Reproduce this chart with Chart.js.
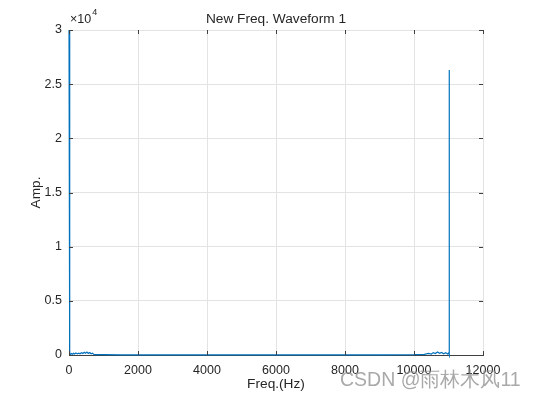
<!DOCTYPE html>
<html>
<head>
    <meta charset="UTF-8">
    <title>New Freq. Waveform 1</title>
    <script src="https://cdn.jsdelivr.net/npm/chart.js"></script>
    <style>
        html, body { margin: 0; padding: 0; background: #fff; }
        #box { width: 534px; height: 400px; }
    </style>
</head>
<body>
    <div id="box"><canvas id="freq-chart"></canvas></div>
    <script>
        // 频谱数据 (Hz, 幅值)
        const freqs = [0, 20, 40, 70, 100, 130, 160, 200, 240, 280, 320, 360, 400, 440, 480, 520, 560, 600, 640, 680, 720, 800,
                       1000, 1500, 2000, 3000, 4000, 5000, 6000, 7000, 8000, 9000, 10000,
                       10300, 10420, 10500, 10560, 10620, 10680, 10740, 10800, 10860, 10920, 10970, 11000, 11015, 11020, 11025];
        const amps = [31000, 150, 60, 140, 70, 160, 90, 180, 100, 170, 120, 210, 140, 250, 160, 280, 150, 230, 110, 170, 60, 40,
                      30, 20, 20, 15, 15, 15, 15, 15, 20, 20, 30,
                      60, 140, 90, 220, 130, 280, 160, 240, 120, 220, 100, 180, 90, 26300, 0];
        const xTicks = [0, 2000, 4000, 6000, 8000, 10000, 12000];
        const yTicks = [0, 5000, 10000, 15000, 20000, 25000, 30000];

        const points = freqs.map((f, i) => ({ x: f, y: amps[i] }));
        const FONT = 'Liberation Sans, Arial, Helvetica, sans-serif';

        // 额外文字和刻度线
        const decor = {
            id: 'decor',
            afterDraw(chart) {
                const c = chart.ctx;
                const a = chart.chartArea;
                const sx = chart.scales.x, sy = chart.scales.y;
                c.save();
                c.strokeStyle = '#404040';
                c.lineWidth = 1;
                c.beginPath();
                xTicks.forEach(v => {
                    const px = Math.round(sx.getPixelForValue(v)) + 0.5;
                    c.moveTo(px, a.bottom); c.lineTo(px, a.bottom - 4);
                    c.moveTo(px, a.top); c.lineTo(px, a.top + 4);
                });
                yTicks.forEach(v => {
                    const py = Math.round(sy.getPixelForValue(v)) + 0.5;
                    c.moveTo(a.left, py); c.lineTo(a.left + 4, py);
                    c.moveTo(a.right, py); c.lineTo(a.right - 4, py);
                });
                c.stroke();

                c.fillStyle = '#262626';
                c.textAlign = 'center';
                c.textBaseline = 'middle';
                c.font = '13.7px ' + FONT;
                c.fillText('New Freq. Waveform 1', (a.left + a.right) / 2, 19);
                c.fillText('Freq.(Hz)', (a.left + a.right) / 2, 384);
                c.save();
                c.translate(36, (a.top + a.bottom) / 2);
                c.rotate(-Math.PI / 2);
                c.fillText('Amp.', 0, 0);
                c.restore();

                c.textAlign = 'left';
                c.font = '12.5px ' + FONT;
                const base = '\u00d710';
                c.fillText(base, 70, 20);
                const w = c.measureText(base).width;
                c.font = '9px ' + FONT;
                c.fillText('4', 70 + w + 1, 13);

                c.font = '19.5px ' + FONT;
                c.fillStyle = 'rgba(140,140,140,0.75)';
                c.fillText('CSDN @雨林木风11', 340, 381);
                c.restore();
            }
        };

        new Chart(document.getElementById('freq-chart'), {
            type: 'line',
            data: {
                datasets: [{
                    data: points,
                    borderColor: '#0072BD',
                    borderWidth: 1.2,
                    pointRadius: 0,
                    tension: 0,
                    fill: false,
                    clip: { left: 3, right: 3, top: 0, bottom: 3 }
                }]
            },
            options: {
                responsive: true,
                maintainAspectRatio: false,
                animation: false,
                layout: { padding: { top: 30, right: 51, left: 0, bottom: 0 } },
                plugins: { legend: { display: false }, tooltip: { enabled: false } },
                scales: {
                    x: {
                        type: 'linear',
                        min: 0, max: 12000,
                        afterBuildTicks: s => { s.ticks = xTicks.map(v => ({ value: v })); },
                        afterFit: s => { s.height = 45; },
                        grid: { color: '#e3e3e3', drawTicks: false },
                        border: { color: '#404040' },
                        ticks: { color: '#262626', padding: 8, maxRotation: 0, font: { family: FONT, size: 12.5 },
                                 callback: v => String(v) }
                    },
                    y: {
                        type: 'linear',
                        min: 0, max: 30000,
                        afterBuildTicks: s => { s.ticks = yTicks.map(v => ({ value: v })); },
                        afterFit: s => { s.width = 69; },
                        grid: { color: '#e3e3e3', drawTicks: false },
                        border: { color: '#404040' },
                        ticks: { color: '#262626', padding: 7, font: { family: FONT, size: 12.5 },
                                 callback: v => String(v / 10000) }
                    }
                }
            },
            plugins: [decor]
        });
    </script>
</body>
</html>
